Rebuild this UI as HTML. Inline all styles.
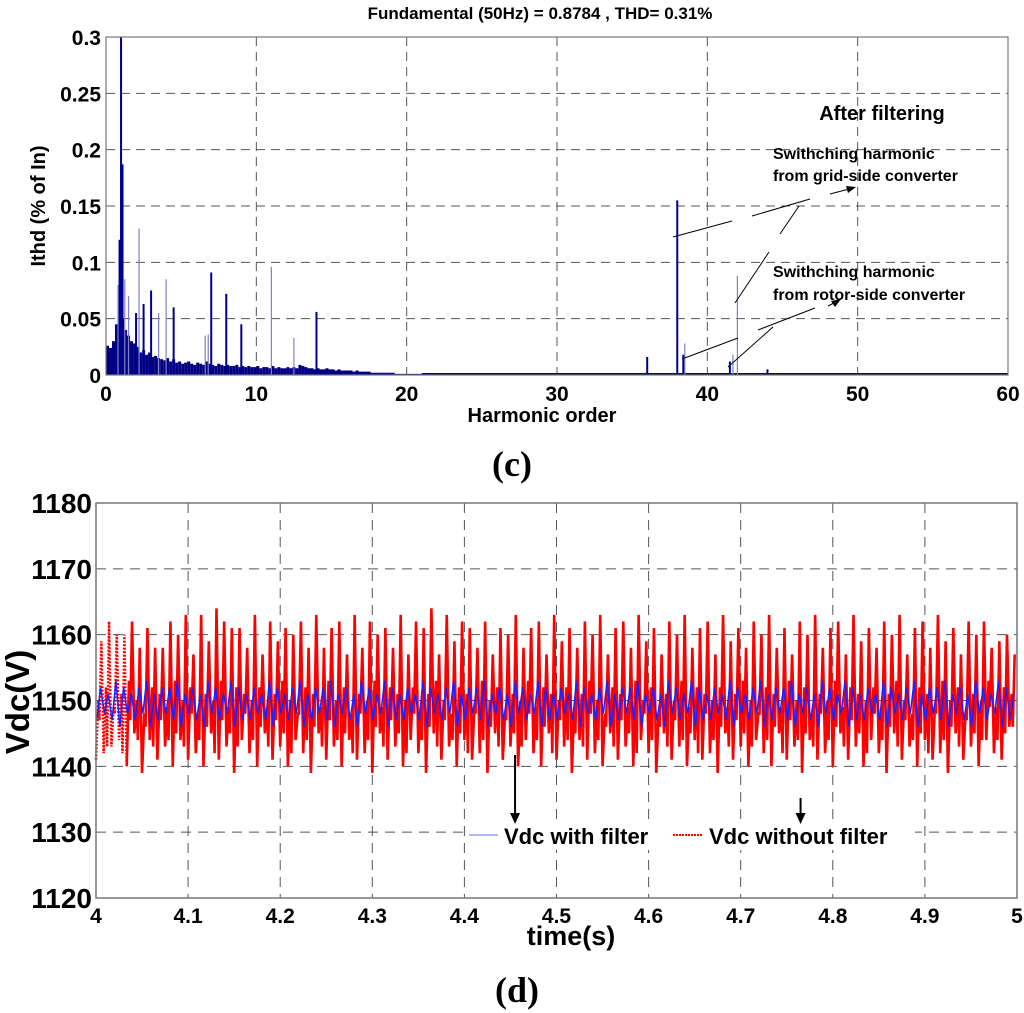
<!DOCTYPE html>
<html><head><meta charset="utf-8"><style>
html,body{margin:0;padding:0;background:#fff}
svg{display:block}
text{font-family:"Liberation Sans",Arial,sans-serif;font-weight:bold;fill:#000}
</style></head><body>
<svg id="s" width="1024" height="1013" viewBox="0 0 1024 1013">
<g id="topChart"></g>
<g id="botChart"></g>
</svg>
<script>
// ---- Spectrum data ----
const noiseStep = 0.2;
const noiseVals = [0.026,0.024,0.03,0.045,0.052,0.05,0.04,0.035,0.03,0.028,0.025,0.02,0.022,0.018,0.02,0.016,0.017,0.015,0.014,0.013,
0.015,0.012,0.014,0.011,0.012,0.01,0.011,0.012,0.01,0.009,0.011,0.01,0.009,0.012,0.01,0.009,0.008,0.01,0.009,0.008,
0.009,0.008,0.008,0.009,0.007,0.008,0.007,0.008,0.007,0.007,0.008,0.006,0.007,0.007,0.006,0.008,0.006,0.007,0.006,0.006,
0.007,0.006,0.007,0.006,0.009,0.008,0.007,0.006,0.006,0.005,0.006,0.005,0.005,0.006,0.005,0.005,0.004,0.005,0.004,0.004,
0.004,0.004,0.003,0.004,0.003,0.003,0.003,0.003,0.002,0.002,0.002,0.002,0.002,0.002,0.002,0.002,0.001,0.001,0.001,0.001,0.001,0.001,0.001,0.001,0.001];
const spikeOrders = [1.0,1.1,0.9,0.8,1.25,2.2,1.5,2.0,3.0,2.5,3.5,4.0,4.5,6.6,6.8,7.0,8.0,9.0,11.0,12.5,14.0,36.0,38.0,38.5,38.4,42.0,41.7,41.5,44.0];
const spikeVals   = [0.3,0.187,0.12,0.08,0.085,0.13,0.07,0.055,0.075,0.063,0.055,0.085,0.06,0.035,0.036,0.091,0.072,0.045,0.096,0.033,0.056,0.016,0.155,0.028,0.018,0.088,0.018,0.012,0.005];
const spikeLight  = [0,0,0,1,1,1,1,0,0,0,1,1,0,1,1,0,0,0,1,1,0,0,0,1,0,1,1,0,0];
const topXTicks = [0,10,20,30,40,50,60];
const topYTicks = [0,0.05,0.1,0.15,0.2,0.25,0.3];
const topYLabels = ["0","0.05","0.1","0.15","0.2","0.25","0.3"];

// ---- Vdc data (per ~120Hz cycle) ----
const tStart = 4.0, tEnd = 5.0;
const redPeaks = [1159,1162,1160,1160,1162,1158,1161,1158,1158,1162,1160,1163,1157,1163,1159,1164,1162,1161,1161,1158,1163,1157,1162,1159,1161,1160,1162,1158,1163,1158,1161,1162,1157,1163,1158,1162,1160,1161,1158,1163,1157,1162,1161,1164,1157,1163,1159,1162,1161,1158,1162,1157,1161,1160,1163,1158,1161,1162,1157,1163,1159,1161,1158,1162,1160,1163,1157,1161,1162,1158,1163,1159,1161,1157,1162,1160,1163,1158,1161,1162,1157,1163,1159,1161,1158,1162,1160,1163,1158,1161,1157,1162,1160,1163,1158,1161,1162,1157,1163,1159,1161,1158,1162,1160,1163,1157,1161,1162,1158,1163,1159,1161,1157,1162,1160,1162,1158,1159,1160,1157];
const redTroughs = [1141,1142,1143,1144,1140,1145,1139,1144,1141,1143,1140,1144,1141,1142,1140,1145,1141,1143,1139,1144,1142,1140,1145,1141,1143,1140,1144,1142,1139,1145,1141,1143,1140,1144,1141,1142,1139,1145,1141,1143,1140,1144,1142,1139,1145,1141,1143,1140,1144,1141,1142,1139,1145,1141,1143,1140,1144,1142,1140,1145,1141,1143,1139,1144,1141,1142,1140,1145,1141,1143,1140,1144,1142,1139,1145,1141,1143,1140,1144,1141,1142,1139,1145,1141,1143,1140,1144,1142,1140,1145,1141,1143,1139,1144,1141,1142,1140,1145,1141,1143,1140,1144,1142,1139,1145,1141,1143,1140,1144,1141,1142,1139,1145,1141,1143,1140,1144,1142,1141,1146];
const redMids = [1150,1152,1149,1151,1153,1150,1148,1152,1151,1149,1153,1150,1152,1148,1151,1150,1153,1149,1152,1151];
const bluePeaks = [1152,1151,1153,1152,1151,1152,1153,1151,1152,1152,1153,1151,1152,1151,1153,1152,1151,1153,1152,1151];
const blueTroughs = [1147,1148,1147,1146,1148,1147,1148,1146,1147,1148,1147,1146,1148,1147,1146,1148,1147,1148,1146,1147];
const botXTicks = [4,4.1,4.2,4.3,4.4,4.5,4.6,4.7,4.8,4.9,5];
const botXLabels = ["4","4.1","4.2","4.3","4.4","4.5","4.6","4.7","4.8","4.9","5"];
const botYTicks = [1120,1130,1140,1150,1160,1170,1180];

const NS="http://www.w3.org/2000/svg";
function mk(parent,tag,attrs,txt){const e=document.createElementNS(NS,tag);for(const k in attrs)e.setAttribute(k,attrs[k]);if(txt!==undefined)e.textContent=txt;parent.appendChild(e);return e;}

// ===== TOP CHART =====
const T={l:106,r:1008,t:37,b:375};
const tx=v=>T.l+(v-0)/60*(T.r-T.l);
const ty=v=>T.b-(v/0.3)*(T.b-T.t);
const topG=document.getElementById('topChart');
let e;
topXTicks.forEach((v,i)=>{
  if(i>0&&i<topXTicks.length-1){e=mk(topG,'line',{x1:tx(v),x2:tx(v),y1:T.t,y2:T.b,stroke:'#555','stroke-dasharray':'9,6','stroke-width':1});
  
  }
  e=mk(topG,'text',{x:tx(v),y:T.b+26,'text-anchor':'middle','font-size':21},String(v));
  
  
});
topYTicks.forEach((v,i)=>{
  if(i>0&&i<topYTicks.length-1){e=mk(topG,'line',{x1:T.l,x2:T.r,y1:ty(v),y2:ty(v),stroke:'#555','stroke-dasharray':'9,6','stroke-width':1});
  
  }
  e=mk(topG,'text',{x:T.l-5,y:ty(v)+8,'text-anchor':'end','font-size':21},topYLabels[i]);
  
  
});
noiseVals.forEach((v,i)=>{
  const x0=tx(i*noiseStep), x1=tx((i+1)*noiseStep);
  e=mk(topG,'rect',{x:x0,y:ty(v),width:Math.max(0.5,x1-x0),height:T.b-ty(v),fill:'#000080'});
  
  
});
e=mk(topG,'line',{x1:tx(21),x2:T.r,y1:T.b-1,y2:T.b-1,stroke:'#000080','stroke-width':2});


spikeOrders.forEach((o,i)=>{
  e=mk(topG,'line',{x1:tx(o),x2:tx(o),y1:T.b,y2:ty(spikeVals[i]),stroke:spikeLight[i]?'#8080c8':'#000090','stroke-width':spikeLight[i]?1.2:2});
  
  
});
e=mk(topG,'rect',{x:T.l,y:T.t,width:T.r-T.l,height:T.b-T.t,fill:'none',stroke:'#777','stroke-width':1.2});


e=mk(topG,'text',{x:540,y:19,'text-anchor':'middle','font-size':17},'Fundamental (50Hz) = 0.8784 , THD= 0.31%');


e=mk(topG,'text',{x:0,y:0,'text-anchor':'middle','font-size':20,transform:'translate(45,206) rotate(-90)'},'Ithd (% of In)');


e=mk(topG,'text',{x:542,y:422,'text-anchor':'middle','font-size':20},'Harmonic order');


e=mk(topG,'text',{x:882,y:120,'text-anchor':'middle','font-size':20},'After filtering');


e=mk(topG,'text',{x:773,y:159,'font-size':16},'Swithching harmonic');


e=mk(topG,'text',{x:773,y:181,'font-size':16},'from grid-side converter');


e=mk(topG,'text',{x:773,y:277,'font-size':16},'Swithching harmonic');


e=mk(topG,'text',{x:773,y:300,'font-size':16},'from rotor-side converter');


const segs=[[673,237,732,221],[752,216,810,199],[799,206,780,234],[769,252,735,303],[682,359,738,338],[758,330,815,308],[773,327,728,367],[830,194,853,188],[828,306,838,301]];
segs.forEach(s=>{e=mk(topG,'line',{x1:s[0],y1:s[1],x2:s[2],y2:s[3],stroke:'#000','stroke-width':1});

});
e=mk(topG,'polygon',{points:'856,187 846,186 848,193',fill:'#000'});


e=mk(topG,'polygon',{points:'841,299 831,301 835,307',fill:'#000'});


e=mk(topG,'text',{x:512,y:476,'text-anchor':'middle','font-size':36,style:'font-family:"Liberation Serif",serif'},'(c)');



// ===== BOTTOM CHART =====
const B={l:96,r:1017,t:503,b:898};
const bx=v=>B.l+(v-tStart)/(tEnd-tStart)*(B.r-B.l);
const by=v=>B.b-(v-1120)/60*(B.b-B.t);
const botG=document.getElementById('botChart');
botXTicks.forEach((v,i)=>{
  if(i>0&&i<botXTicks.length-1){e=mk(botG,'line',{x1:bx(v),x2:bx(v),y1:B.t,y2:B.b,stroke:'#555','stroke-dasharray':'10,7','stroke-width':1});
  
  }
  e=mk(botG,'text',{x:bx(v),y:B.b+25,'text-anchor':'middle','font-size':21},botXLabels[i]);
  
  
});
botYTicks.forEach((v,i)=>{
  if(i>0){e=mk(botG,'line',{x1:B.l,x2:B.r,y1:by(v),y2:by(v),stroke:'#555','stroke-dasharray':'10,7','stroke-width':1});
  
  }
  e=mk(botG,'text',{x:B.l-4,y:by(v)+10,'text-anchor':'end','font-size':28},String(v));
  
  
});
const n=redPeaks.length, dt=(tEnd-tStart)/n;
let pr=[];
for(let i=0;i<n;i++){
  const t0=tStart+i*dt;
  pr.push([bx(t0),by(redTroughs[i])]);
  pr.push([bx(t0+dt*0.3),by(redMids[i%redMids.length])]);
  pr.push([bx(t0+dt*0.45),by(redTroughs[(i+3)%n]+3)]);
  pr.push([bx(t0+dt*0.7),by(redPeaks[i])]);
}
const cut=16;
e=mk(botG,'polyline',{points:pr.slice(0,cut+1).map(p=>p.join(',')).join(' '),fill:'none',stroke:'#ff0000','stroke-width':2.5,'stroke-dasharray':'2,1.5'});


e=mk(botG,'polyline',{points:pr.slice(cut).map(p=>p.join(',')).join(' '),fill:'none',stroke:'#ff0000','stroke-width':2.6});


let pb=[];
for(let i=0;i<n;i++){
  const t0=tStart+i*dt;
  pb.push([bx(t0+dt*0.1),by(blueTroughs[i%blueTroughs.length])]);
  pb.push([bx(t0+dt*0.6),by(bluePeaks[i%bluePeaks.length])]);
}
e=mk(botG,'polyline',{points:pb.map(p=>p.join(',')).join(' '),fill:'none',stroke:'#2020ff','stroke-width':1.5});


e=mk(botG,'rect',{x:B.l,y:B.t,width:B.r-B.l,height:B.b-B.t,fill:'none',stroke:'#777','stroke-width':1.5});


const lg=mk(botG,'g',{});


e=mk(lg,'rect',{x:465,y:824,width:450,height:26,fill:'#fff'});


e=mk(lg,'line',{x1:469,x2:498,y1:835,y2:835,stroke:'#9999ff','stroke-width':1.5});


e=mk(lg,'text',{x:504,y:844,'font-size':22},'Vdc with filter');


e=mk(lg,'line',{x1:673,x2:703,y1:835,y2:835,stroke:'#ff0000','stroke-width':2,'stroke-dasharray':'2,1'});


e=mk(lg,'text',{x:709,y:844,'font-size':22},'Vdc without filter');


[[4.455,755,824],[4.765,798,824]].forEach(a=>{
  e=mk(botG,'line',{x1:bx(a[0]),x2:bx(a[0]),y1:a[1],y2:a[2]-8,stroke:'#000','stroke-width':2});
  
  
  const x=bx(a[0]);
  e=mk(botG,'polygon',{points:`${x-5},${a[2]-11} ${x+5},${a[2]-11} ${x},${a[2]}`,fill:'#000'});
  
  
});
e=mk(botG,'text',{x:0,y:0,'text-anchor':'middle','font-size':33,transform:'translate(29,702) rotate(-90)'},'Vdc(V)');


e=mk(botG,'text',{x:571,y:945,'text-anchor':'middle','font-size':27},'time(s)');


e=mk(botG,'text',{x:517,y:1002,'text-anchor':'middle','font-size':36,style:'font-family:"Liberation Serif",serif'},'(d)');


</script>
</body></html>
